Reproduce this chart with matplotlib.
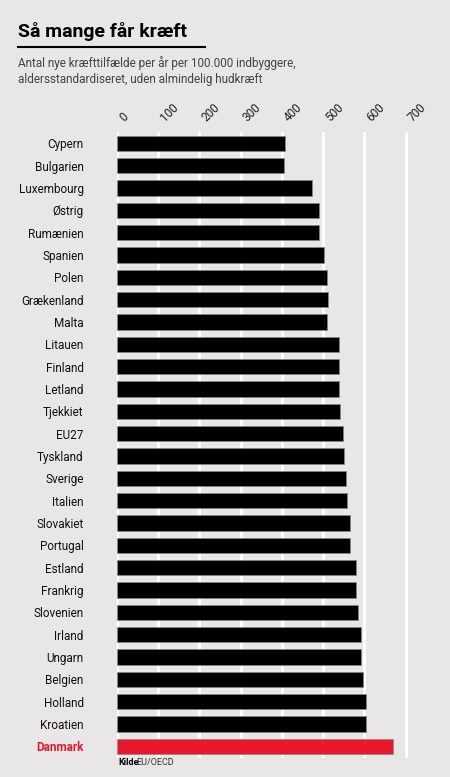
import matplotlib
matplotlib.use("Agg")
import matplotlib.pyplot as plt

countries = ["Cypern","Bulgarien","Luxembourg","Østrig","Rumænien","Spanien","Polen","Grækenland","Malta",
             "Litauen","Finland","Letland","Tjekkiet","EU27","Tyskland","Sverige","Italien","Slovakiet",
             "Portugal","Estland","Frankrig","Slovenien","Irland","Ungarn","Belgien","Holland","Kroatien","Danmark"]
values = [408,405,474,489,491,501,510,511,510,538,539,538,541,549,551,555,557,565,566,580,580,584,592,593,597,603,605,670]
ticks = [0,100,200,300,400,500,600,700]

bg = "#e8e6e6"
red = "#e8192c"
plt.rcParams['font.family'] = ['Roboto', 'DejaVu Sans']
fig = plt.figure(figsize=(4.5, 7.77), dpi=100, facecolor=bg)
n = len(countries)
ax = fig.add_axes([0.26, 0.025, 0.678, 0.805], facecolor=bg)
ypos = list(range(n))
colors = [red if c == "Danmark" else "black" for c in countries]
ax.barh(ypos, values, height=0.68, color=colors, edgecolor="#888888", linewidth=0.5, zorder=3)
ax.set_ylim(n - 0.5, -0.5)
ax.set_xlim(0, 740)
for t in ticks:
    ax.axvline(t, color="white", lw=2.2, zorder=1)
ax.set_xticks(ticks)
ax.xaxis.tick_top()
ax.set_xticklabels([str(t) for t in ticks], rotation=45, ha="left", va="bottom", fontsize=8.5, color="#222222")
ax.tick_params(axis="x", length=0, pad=6)
ax.set_yticks(ypos)
ax.set_yticklabels(countries, fontsize=8.5, color="#111111")
ax.tick_params(axis="y", length=0, pad=24)
for lbl in ax.get_yticklabels():
    if lbl.get_text() == "Danmark":
        lbl.set_color(red); lbl.set_fontweight("bold")
for s in ax.spines.values():
    s.set_visible(False)

fig.text(0.04, 0.953, "Så mange får kræft", fontsize=14, fontweight="bold", color="black")
fig.add_artist(plt.Line2D([0.04, 0.455], [0.939, 0.939], color="black", lw=1.5))
fig.text(0.04, 0.893, "Antal nye kræfttilfælde per år per 100.000 indbyggere,\naldersstandardiseret, uden almindelig hudkræft",
         fontsize=8.5, color="#444444", linespacing=1.3)
fig.text(0.262, 0.015, "Kilde", fontsize=6.5, fontweight="bold", color="black")
fig.text(0.303, 0.015, "EU/OECD", fontsize=6.5, color="#333333")
fig.savefig("out.png", dpi=100, facecolor=bg)
